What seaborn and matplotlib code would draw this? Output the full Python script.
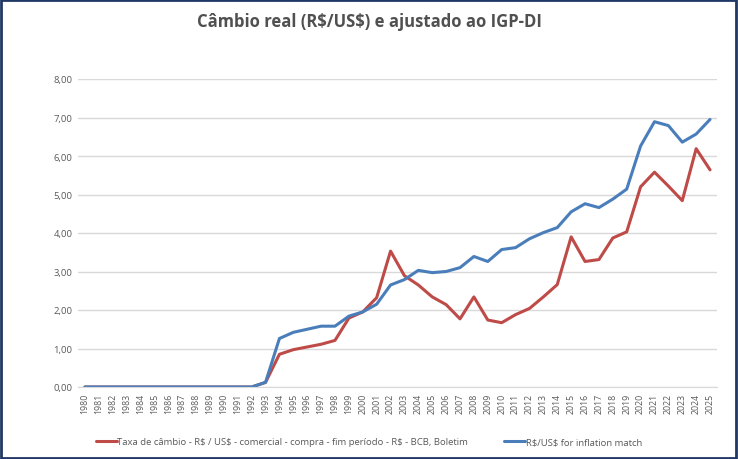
import numpy as np
import pandas as pd
import seaborn as sns
import matplotlib.pyplot as plt
from matplotlib.patches import Rectangle

years = list(range(1980, 2026))

# taxa de cambio comercial (R$/US$), fim de periodo
cambio = [0, 0, 0, 0, 0, 0, 0, 0, 0, 0, 0, 0, 0, 0.12,
          0.85, 0.97, 1.04, 1.11, 1.21, 1.79, 1.95, 2.32, 3.53, 2.89,
          2.65, 2.34, 2.14, 1.77, 2.34, 1.74, 1.67, 1.88, 2.04, 2.34,
          2.66, 3.90, 3.26, 3.31, 3.87, 4.03, 5.20, 5.58, 5.22, 4.84,
          6.19, 5.64]

# cambio ajustado pelo IGP-DI
ajustado = [0, 0, 0, 0, 0, 0, 0, 0, 0, 0, 0, 0, 0, 0.12,
            1.26, 1.42, 1.50, 1.58, 1.58, 1.84, 1.95, 2.15, 2.65, 2.79,
            3.03, 2.97, 3.00, 3.10, 3.39, 3.26, 3.57, 3.62, 3.85, 4.01,
            4.14, 4.55, 4.76, 4.66, 4.88, 5.14, 6.26, 6.89, 6.79, 6.36,
            6.57, 6.95]

lbl_red = "Taxa de câmbio - R$ / US$ - comercial - compra - fim período - R$ - BCB, Boletim"
lbl_blue = "R$/US$ for inflation match"

df = pd.DataFrame({"ano": years, lbl_red: cambio, lbl_blue: ajustado})
long = df.melt(id_vars="ano", var_name="serie", value_name="valor")

sns.set_style("white")
plt.rcParams["font.family"] = ["Open Sans", "DejaVu Sans"]
plt.rcParams["text.parse_math"] = False  # os "$" sao texto normal

fig = plt.figure(figsize=(7.38, 4.6), dpi=100)
ax = fig.add_axes([78 / 738, 72 / 460, 639 / 738, 308 / 460])

sns.lineplot(data=long, x="ano", y="valor", hue="serie",
             palette={lbl_red: "#be4b48", lbl_blue: "#4a7ebb"},
             linewidth=2.2, ax=ax, legend=False)

ax.set_xlim(1979.5, 2025.5)
ax.set_ylim(0, 8)
ax.set_xticks(years)
ax.set_xticklabels([str(y) for y in years], rotation=90, fontsize=6.3, color="#595959")
ax.set_yticks(np.arange(0, 9, 1))
ax.set_yticklabels([f"{v:.2f}".replace(".", ",") for v in range(9)], fontsize=6.8, color="#595959")
ax.tick_params(axis="both", length=0, pad=4)
ax.yaxis.grid(True, color="#d9d9d9", linewidth=1)
ax.set_axisbelow(True)
for s in ["top", "right", "left"]:
    ax.spines[s].set_visible(False)
ax.spines["bottom"].set_color("#d9d9d9")
ax.set_xlabel("")
ax.set_ylabel("")

fig.text(0.5, 1 - 22 / 460, "Câmbio real (R$/US$) e ajustado ao IGP-DI",
         ha="center", va="center", fontsize=12, fontweight="bold", color="#505050")

handles = [plt.Line2D([], [], color="#be4b48", lw=2.2),
           plt.Line2D([], [], color="#4a7ebb", lw=2.2)]
fig.legend(handles, [lbl_red, lbl_blue], loc="center", bbox_to_anchor=(0.5, 1 - 443 / 460),
           ncol=2, frameon=False, fontsize=6.8, handlelength=2.2, handletextpad=0.1,
           columnspacing=3.8, labelcolor="#595959")

fig.patches.append(Rectangle((0.002, 0.003), 0.995, 0.994, transform=fig.transFigure,
                             fill=False, edgecolor="#1f3864", linewidth=2))

fig.savefig("out.png", dpi=100)
